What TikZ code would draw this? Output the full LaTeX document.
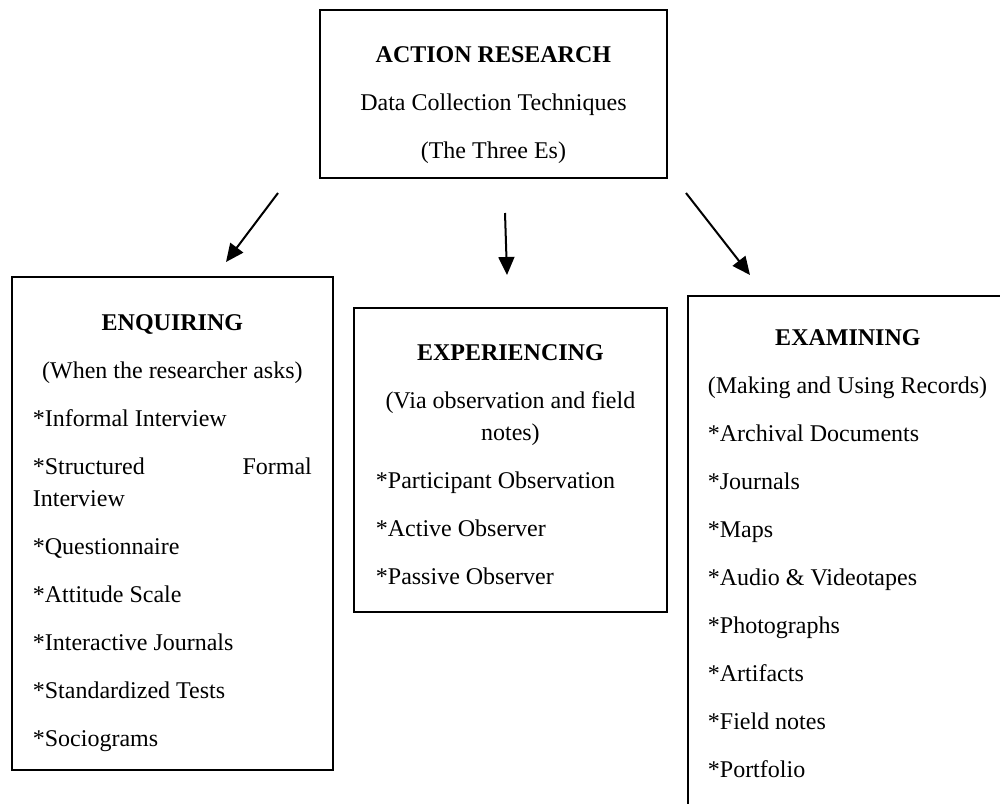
\documentclass[tikz,border=0pt]{standalone}
\usepackage{fontspec}
\setmainfont{Liberation Serif}
\usepackage{tikz}
\usetikzlibrary{arrows.meta}
\tikzset{
  arbox/.style={
    draw=black, line width=0.9pt, anchor=north west,
    inner ysep=0pt, align=left, font=\fontsize{12}{16}\selectfont,
    execute at begin node={\spaceskip=0pt\xspaceskip=0pt}
  },
  arr/.style={-{Triangle[length=9pt,width=8pt]}, draw=black, line width=1pt}
}

\begin{document}
\begin{tikzpicture}[x=0.5pt,y=-0.5pt]
  \useasboundingbox (0,0) rectangle (1000,803);
  \clip (0,0) rectangle (1000,803);

  % Top box
  \node[arbox, inner xsep=0pt, text width=173.5pt,
        text height=26.5pt, text depth=57.5pt] (head) at (319,9)
    {\makebox[\linewidth][c]{\textbf{ACTION RESEARCH}}\\[8pt]
     \makebox[\linewidth][c]{Data Collection Techniques}\\[8pt]
     \makebox[\linewidth][c]{(The Three Es)}};

  % The three Es
  \node[arbox, inner xsep=10.5pt, text width=139.5pt,
        text height=27pt, text depth=219.5pt] (enq) at (11,276)
    {\makebox[\linewidth][c]{\textbf{ENQUIRING}}\\[8pt]
     \makebox[\linewidth][c]{(When the researcher asks)}\\[8pt]
     *Informal Interview\\[8pt]
     \makebox[\linewidth][s]{*Structured Formal}\\
     Interview\\[8pt]
     *Questionnaire\\[8pt]
     *Attitude Scale\\[8pt]
     *Interactive Journals\\[8pt]
     *Standardized Tests\\[8pt]
     *Sociograms};
  \node[arbox, inner xsep=11pt, text width=134.5pt,
        text height=26.5pt, text depth=125.5pt] (exp) at (353,307)
    {\makebox[\linewidth][c]{\textbf{EXPERIENCING}}\\[8pt]
     \makebox[\linewidth][c]{(Via observation and field}\\
     \makebox[\linewidth][c]{notes)}\\[8pt]
     *Participant Observation\\[8pt]
     *Active Observer\\[8pt]
     *Passive Observer};
  \node[arbox, inner xsep=10pt, text width=140pt,
        text height=25pt, text depth=242.5pt] (exa) at (687,295)
    {\makebox[\linewidth][c]{\textbf{EXAMINING}}\\[8pt]
     \makebox[\linewidth][l]{(Making and Using Records)}\\[8pt]
     *Archival Documents\\[8pt]
     *Journals\\[8pt]
     *Maps\\[8pt]
     *Audio \& Videotapes\\[8pt]
     *Photographs\\[8pt]
     *Artifacts\\[8pt]
     *Field notes\\[8pt]
     *Portfolio};

  % Arrow ends
  \coordinate (enqtail) at (278,193);
  \coordinate (enqtip) at (226,262);
  \coordinate (exptail) at (505,213);
  \coordinate (exptip) at (507,275);
  \coordinate (exatail) at (686,193);
  \coordinate (exatip) at (750,275);

  \draw[arr] (enqtail) -- (enqtip);
  \draw[arr] (exptail) -- (exptip);
  \draw[arr] (exatail) -- (exatip);
\end{tikzpicture}
\end{document}
